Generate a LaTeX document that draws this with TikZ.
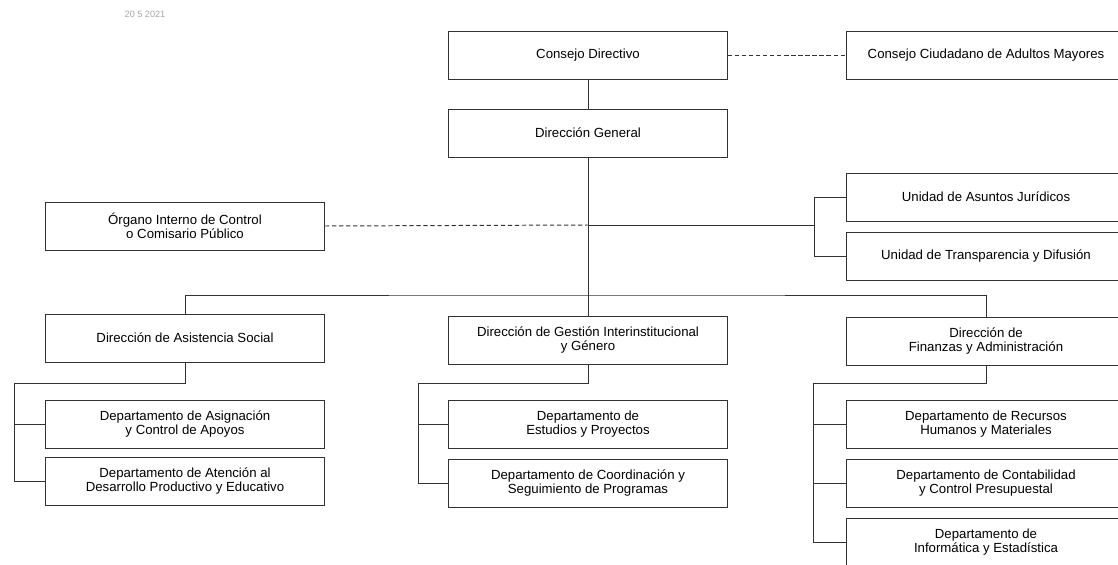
\documentclass[tikz,border=0pt]{standalone}
\usepackage{fontspec}
\setmainfont{Liberation Sans}
\usetikzlibrary{positioning,calc}
\tikzset{
    x=0.025cm,
    y=-0.025cm,
    unit/.style = {
        draw=black!80,
        shape=rectangle,
        minimum width=6.975cm,
        minimum height=1.2cm,
        inner sep=0pt,
        align=center,
        font=\fontsize{9.4}{10.4}\selectfont,
        line width=0.7pt
    },
    link/.style = {
        draw=black!80,
        line width=0.7pt
    },
    staff/.style = {
        link,
        dash pattern=on 3pt off 2pt
    },
    stamp/.style = {
        text=black!35,
        font=\fontsize{6.5}{7}\selectfont
    },
}

\begin{document}
\begin{tikzpicture}
    \useasboundingbox (0,0) rectangle (1118,565);
    \node[stamp] (date) at (145,14) {20 5 2021};

    \node[unit] (cd) at (588,55) {Consejo Directivo};
    \node[unit] (cc) at (986,55) {Consejo Ciudadano de Adultos Mayores};
    \node[unit] (dg) at (588,133) {Dirección General};
    \node[unit] (oic) at (185,226) {Órgano Interno de Control\\o Comisario Público};
    \node[unit] (uaj) at (986,197) {Unidad de Asuntos Jurídicos};
    \node[unit] (utd) at (986,256) {Unidad de Transparencia y Difusión};

    \node[unit] (das) at (185,338) {Dirección de Asistencia Social};
    \node[unit] (dgi) at (588,340) {Dirección de Gestión Interinstitucional\\y Género};
    \node[unit] (dfa) at (986,341) {Dirección de\\Finanzas y Administración};

    \node[unit] (dac) at (185,424) {Departamento de Asignación\\y Control de Apoyos};
    \node[unit] (dad) at (185,481) {Departamento de Atención al\\Desarrollo Productivo y Educativo};
    \node[unit] (dep) at (588,424) {Departamento de\\Estudios y Proyectos};
    \node[unit] (dcs) at (588,483) {Departamento de Coordinación y\\Seguimiento de Programas};
    \node[unit] (drh) at (986,424) {Departamento de Recursos\\Humanos y Materiales};
    \node[unit] (dcp) at (986,483) {Departamento de Contabilidad\\y Control Presupuestal};
    \node[unit] (die) at (986,542) {Departamento de\\Informática y Estadística};

    \coordinate (bus) at (588,295);
    \coordinate (side) at (588,225);
    \coordinate (ubr) at (814,225);
    \coordinate (lbr) at (14,383);
    \coordinate (mbr) at (418,383);
    \coordinate (rbr) at (813,383);

    \path[staff] (cd.east) -- (cc.west);
    \path[link] (cd.south) -- (dg.north);
    \path[link] (dg.south) -- (dgi.north);
    \path[staff] (oic.east) -- (side);
    \path[link] (side) -- (ubr);
    \path[link] (uaj.west) -| (ubr) |- (utd.west);
    \path[link] (das.north) |- (bus) -| (dfa.north);

    \path[link] (das.south) |- (lbr) |- (dad.west);
    \path[link] (lbr |- dac.west) -- (dac.west);
    \path[link] (dgi.south) |- (mbr) |- (dcs.west);
    \path[link] (mbr |- dep.west) -- (dep.west);
    \path[link] (dfa.south) |- (rbr) |- (die.west);
    \path[link] (rbr |- drh.west) -- (drh.west);
    \path[link] (rbr |- dcp.west) -- (dcp.west);
\end{tikzpicture}
\end{document}
